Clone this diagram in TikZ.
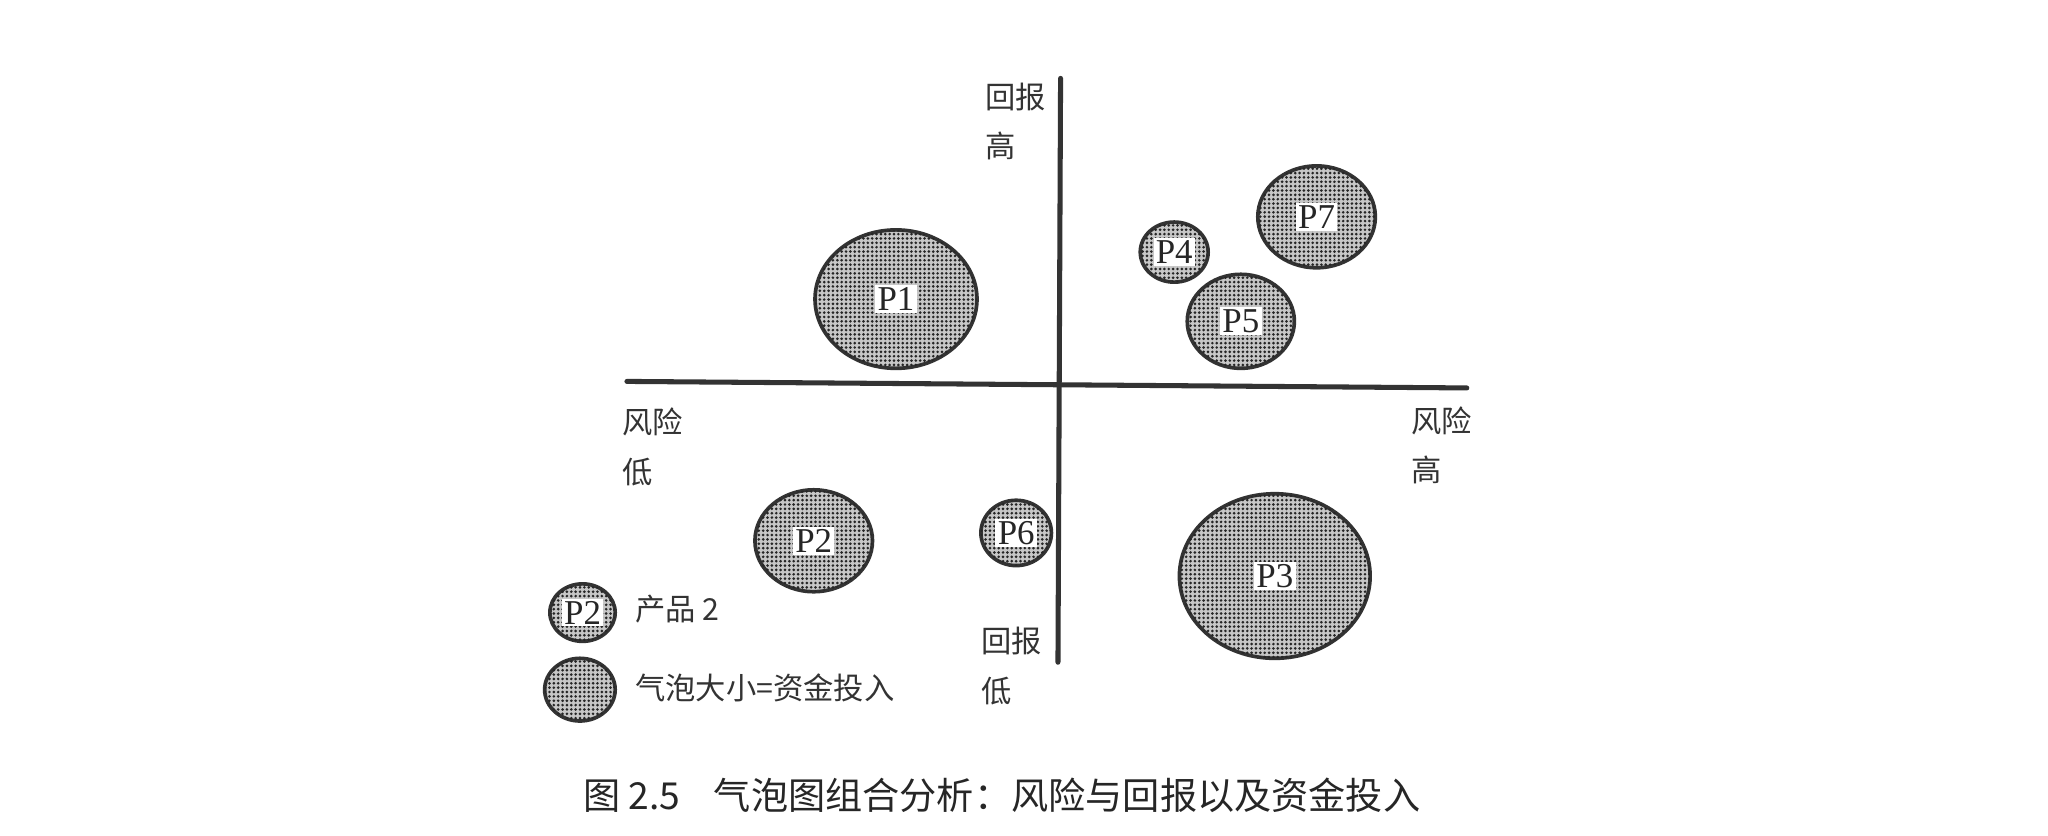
\documentclass[tikz,border=0pt]{standalone}
\usepackage{fontspec}
\setmainfont{Liberation Serif}
\newfontfamily\cjk{Noto Sans CJK SC}
\usetikzlibrary{shapes.geometric,patterns.meta}
\begin{document}
\begin{tikzpicture}[x=1mm, y=-1mm, line join=round, line cap=round,
  bubble/.style={ellipse, draw=black!80, line width=0.8pt, fill=black!22, inner sep=0pt,
    postaction={pattern={Dots[distance=0.95pt, radius=0.32pt]}, pattern color=black!85}},
  tag/.style={fill=white, inner sep=0.5pt, text=black!85, font=\fontsize{7.6}{8}\selectfont},
  axis/.style={draw=black!80, line width=1.1pt},
  axislabel/.style={anchor=west, align=left, text=black!80, font=\cjk\fontsize{6.6}{10.8}\selectfont}]
\useasboundingbox (0,0) rectangle (156.8,64.0);
% axes
\coordinate (top) at (81.2,6.0);
\coordinate (bottom) at (81.0,50.7);
\coordinate (left) at (48.0,29.2);
\coordinate (right) at (112.3,29.7);
\draw[axis] (left) -- (right);
\draw[axis] (top) -- (bottom);
\node[axislabel] (rethigh) at (74.2,9.3) {回报\\高};
\node[axislabel] (retlow) at (73.9,51.0) {回报\\低};
\node[axislabel] (risklow) at (46.4,34.2) {风险\\低};
\node[axislabel] (riskhigh) at (106.8,34.1) {风险\\高};
% bubbles
\foreach \n/\x/\y/\w/\h in {1/68.6/22.9/12.4/10.6, 2/62.3/41.4/9.0/7.8, 3/97.6/44.1/14.6/12.6,
  4/89.9/19.3/5.2/4.6, 5/95.0/24.6/8.2/7.2, 6/77.8/40.8/5.4/5.0, 7/100.8/16.6/9.0/7.8}
{
  \node[bubble, minimum width=\w mm, minimum height=\h mm] (p\n) at (\x,\y) {};
  \node[tag] (p\n tag) at (p\n) {P\n};
}
% legend
\node[bubble, minimum width=5.0mm, minimum height=4.4mm] (keyp) at (44.6,46.9) {};
\node[tag] (keyptag) at (keyp) {P2};
\node[bubble, minimum width=5.4mm, minimum height=4.8mm] (keysize) at (44.4,52.8) {};
\node[axislabel] (keyptext) at (47.4,46.6) {产品 2};
\node[axislabel] (keysizetext) at (47.4,52.7) {气泡大小=资金投入};
\node[text=black!85, font=\cjk\fontsize{8.1}{10}\selectfont] (caption) at (76.7,60.9)
  {图 2.5\hspace{0.9em}气泡图组合分析：风险与回报以及资金投入};
\end{tikzpicture}
\end{document}
